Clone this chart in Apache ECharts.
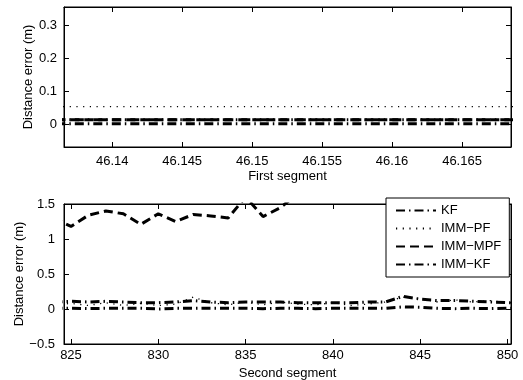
<!DOCTYPE html>
<html>
<head>
<meta charset="utf-8">
<script src="https://cdn.jsdelivr.net/npm/echarts@6/dist/echarts.min.js"></script>
<style>
  html, body { margin: 0; padding: 0; background: #fff; }
  #chart { width: 523px; height: 380px; }
</style>
</head>
<body>
<div id="chart"></div>
<script>
// first segment (upper panel)
const seg1X = [46.136, 46.14, 46.145, 46.15, 46.155, 46.16, 46.165, 46.17];
const seg1KF = [0.013, 0.013, 0.013, 0.013, 0.013, 0.013, 0.013, 0.013];
const seg1ImmPF = [0.053, 0.053, 0.053, 0.053, 0.053, 0.053, 0.053, 0.053];
const seg1ImmMPF = [0.013, 0.013, 0.013, 0.013, 0.013, 0.013, 0.013, 0.013];
const seg1ImmKF = [0.001, 0.001, 0.001, 0.001, 0.001, 0.001, 0.001, 0.001];

// second segment (lower panel)
const seg2X = [824, 825, 826, 827, 828, 829, 830, 831, 832, 833, 834, 835, 836, 837,
               838, 839, 840, 841, 842, 843, 844, 845, 846, 847, 848, 849, 850, 851];
const seg2KF = [0.10, 0.11, 0.10, 0.11, 0.10, 0.09, 0.09, 0.10, 0.12, 0.10, 0.09, 0.10, 0.10, 0.10,
                0.09, 0.09, 0.09, 0.09, 0.10, 0.10, 0.18, 0.14, 0.12, 0.12, 0.11, 0.10, 0.09, 0.09];
const seg2ImmPF = [0.06, 0.08, 0.05, 0.09, 0.05, 0.08, 0.05, 0.07, 0.17, 0.09, 0.06, 0.10, 0.06, 0.10,
                   0.07, 0.06, 0.09, 0.05, 0.07, 0.10, 0.17, 0.15, 0.10, 0.13, 0.10, 0.12, 0.09, 0.10];
const seg2ImmMPF = [1.30, 1.18, 1.34, 1.40, 1.36, 1.21, 1.36, 1.25, 1.35, 1.33, 1.30, 1.60, 1.32, 1.45,
                    1.65, 1.90, null, null, null, null, null, null, null, null, null, null, null, null];
const seg2ImmKF = [0.01, 0.01, 0.005, 0.01, 0.01, 0.01, 0.0, 0.01, 0.01, 0.01, 0.01, 0.01, 0.005, 0.01,
                   0.01, 0.005, 0.01, 0.01, 0.01, 0.01, 0.03, 0.025, 0.01, 0.005, 0.01, 0.005, 0.01, 0.01];

const seg1Ticks = [46.14, 46.145, 46.15, 46.155, 46.16, 46.165];
const seg1YTicks = [0, 0.1, 0.2, 0.3];
const seg2Ticks = [825, 830, 835, 840, 845, 850];
const seg2YTicks = [-0.5, 0, 0.5, 1, 1.5];

const FONT = 'Liberation Sans';
const chart = echarts.init(document.getElementById('chart'), null, {renderer: 'canvas'});

const styles = {
    'KF': {type: [9, 4, 1.5, 4], width: 3},
    'IMM\u2212PF': {type: [1.2, 5.5], width: 1.3},
    'IMM\u2212MPF': {type: [9, 5], width: 3},
    'IMM\u2212KF': {type: [9, 4, 1.5, 4], width: 3},
};

const pairs = (xs, ys) => xs.map((x, i) => [x, ys[i]]);

const mkSeries = (name, xs, ys, idx) => ({
    name: name,
    type: 'line',
    xAxisIndex: idx,
    yAxisIndex: idx,
    data: pairs(xs, ys),
    symbol: 'none',
    clip: true,
    silent: true,
    animation: false,
    lineStyle: {color: '#000', width: styles[name].width, type: styles[name].type},
    itemStyle: {color: '#000'},
});

const tickFmt = (digits) => (v) => {
    const s = String(+(+v).toFixed(digits));
    return s.startsWith('-') ? '\u2212' + s.slice(1) : s;
};

const baseAxis = {
    axisLine: {show: true, onZero: false, lineStyle: {color: '#000', width: 1}},
    axisTick: {show: true, inside: true, length: 5, lineStyle: {color: '#000'}},
    splitLine: {show: false},
    axisLabel: {color: '#000', fontFamily: FONT, fontSize: 13},
    nameTextStyle: {color: '#000', fontFamily: FONT, fontSize: 13},
    nameMoveOverlap: false,
};

function xAx(grid, min, max, ticks, digits, top, name, margin) {
    return Object.assign({}, baseAxis, {
        type: 'value', gridIndex: grid, min: min, max: max,
        position: top ? 'top' : 'bottom',
        name: top ? '' : name, nameLocation: 'middle', nameGap: 23,
        axisTick: Object.assign({}, baseAxis.axisTick, {customValues: ticks}),
        axisLabel: Object.assign({}, baseAxis.axisLabel, {
            show: !top, customValues: ticks, margin: margin, formatter: tickFmt(digits),
            showMinLabel: true, showMaxLabel: true,
        }),
    });
}

function yAx(grid, min, max, ticks, digits, right, gap, margin) {
    return Object.assign({}, baseAxis, {
        type: 'value', gridIndex: grid, min: min, max: max,
        position: right ? 'right' : 'left',
        name: right ? '' : 'Distance error (m)', nameLocation: 'middle', nameGap: gap,
        axisTick: Object.assign({}, baseAxis.axisTick, {customValues: ticks}),
        axisLabel: Object.assign({}, baseAxis.axisLabel, {
            show: !right, customValues: ticks, margin: margin, formatter: tickFmt(digits),
        }),
    });
}

const option = {
    backgroundColor: '#fff',
    animation: false,
    grid: [
        {left: 64, right: 12, top: 7, height: 140, show: true, borderColor: '#000', borderWidth: 1, outerBoundsMode: 'none'},
        {left: 64, right: 12, top: 204, height: 140, show: true, borderColor: '#000', borderWidth: 1, outerBoundsMode: 'none'},
    ],
    xAxis: [
        xAx(0, 46.13655, 46.1685, seg1Ticks, 3, false, 'First segment', 8),
        xAx(0, 46.13655, 46.1685, seg1Ticks, 3, true, '', 8),
        xAx(1, 824.6, 850.2, seg2Ticks, 0, false, 'Second segment', 5),
        xAx(1, 824.6, 850.2, seg2Ticks, 0, true, '', 5),
    ],
    yAxis: [
        yAx(0, -0.07, 0.357, seg1YTicks, 1, false, 29, 7),
        yAx(0, -0.07, 0.357, seg1YTicks, 1, true, 0, 7),
        yAx(1, -0.5, 1.5, seg2YTicks, 1, false, 38, 9),
        yAx(1, -0.5, 1.5, seg2YTicks, 1, true, 0, 9),
    ],
    legend: {
        orient: 'vertical',
        left: 386,
        top: 198,
        itemWidth: 40,
        itemHeight: 14,
        itemGap: 5,
        padding: [6, 8, 6, 9],
        backgroundColor: '#fff',
        borderColor: '#000',
        borderWidth: 1,
        selectedMode: false,
        itemStyle: {opacity: 0},
        textStyle: {color: '#000', fontFamily: FONT, fontSize: 13},
        data: ['KF', 'IMM\u2212PF', 'IMM\u2212MPF', 'IMM\u2212KF'],
    },
    series: [
        mkSeries('KF', seg1X, seg1KF, 0),
        mkSeries('IMM\u2212PF', seg1X, seg1ImmPF, 0),
        mkSeries('IMM\u2212MPF', seg1X, seg1ImmMPF, 0),
        mkSeries('IMM\u2212KF', seg1X, seg1ImmKF, 0),
        mkSeries('KF', seg2X, seg2KF, 2),
        mkSeries('IMM\u2212PF', seg2X, seg2ImmPF, 2),
        mkSeries('IMM\u2212MPF', seg2X, seg2ImmMPF, 2),
        mkSeries('IMM\u2212KF', seg2X, seg2ImmKF, 2),
    ],
};

chart.setOption(option);
</script>
</body>
</html>
